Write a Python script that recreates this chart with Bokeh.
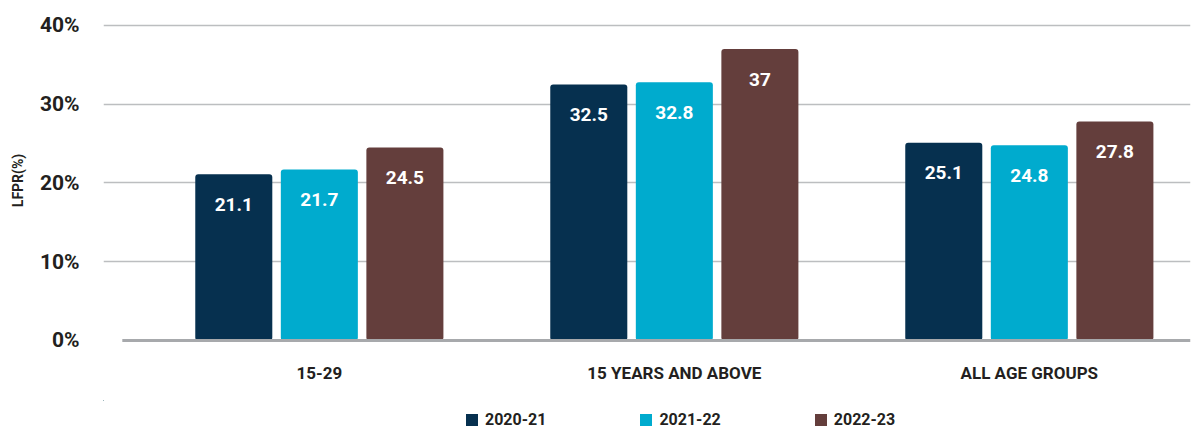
from bokeh.plotting import figure
from bokeh.layouts import column
from bokeh.models import ColumnDataSource, Range1d, FixedTicker, PrintfTickFormatter, Legend, LegendItem
from bokeh.core.properties import value
from bokeh.transform import dodge
from bokeh.embed import file_html
from bokeh.resources import INLINE

categories = ["15-29", "15 YEARS AND ABOVE", "ALL AGE GROUPS"]
years = ["2020-21", "2021-22", "2022-23"]
v2020 = [21.1, 32.5, 25.1]
v2021 = [21.7, 32.8, 24.8]
v2022 = [24.5, 37, 27.8]
y_ticks = [0, 10, 20, 30, 40]

colors = ["#06304F", "#00ABCE", "#643E3C"]
FONT = "Roboto"
TXT = "#231F20"

xs = list(range(len(categories)))
src = ColumnDataSource(dict(
    x=xs,
    v0=v2020, v1=v2021, v2=v2022,
    l0=[f"{v:g}" for v in v2020],
    l1=[f"{v:g}" for v in v2021],
    l2=[f"{v:g}" for v in v2022],
))

p = figure(width=1203, height=400, output_backend="svg", toolbar_location=None,
           x_range=Range1d(-0.608, 2.454), y_range=Range1d(-1.27, 41.9),
           min_border_left=103, min_border_right=13, min_border_top=10, min_border_bottom=50)
p.outline_line_color = None
p.background_fill_color = "white"

offs = [-0.241, 0.0, 0.241]
for i in range(3):
    p.vbar(x=dodge("x", offs[i]), top=f"v{i}", width=0.217, source=src,
           fill_color=colors[i], line_color=None, border_radius=3)
    p.text(x=dodge("x", offs[i]), y=f"v{i}", text=f"l{i}", source=src,
           text_color="white", text_font=value(FONT), text_font_style="bold",
           text_font_size="19px", text_align="center", text_baseline="middle",
           y_offset=30)

# baseline
p.segment(x0=[-0.555], y0=[0], x1=[2.454], y1=[0], line_color="#A7A9AC", line_width=3)

p.xgrid.visible = False
p.ygrid.ticker = FixedTicker(ticks=y_ticks[1:])
p.ygrid.grid_line_color = "#BCBEC0"
p.ygrid.grid_line_width = 1.5

p.yaxis.ticker = FixedTicker(ticks=y_ticks)
p.yaxis.formatter = PrintfTickFormatter(format="%d%%")
p.yaxis.axis_line_color = None
p.yaxis.major_tick_line_color = None
p.yaxis.minor_tick_line_color = None
p.yaxis.major_label_text_font = FONT
p.yaxis.major_label_text_font_style = "bold"
p.yaxis.major_label_text_font_size = "21px"
p.yaxis.major_label_text_color = TXT
p.yaxis.major_label_standoff = 18
p.yaxis.axis_label = "LFPR(%)"
p.yaxis.axis_label_text_font = FONT
p.yaxis.axis_label_text_font_style = "bold"
p.yaxis.axis_label_text_font_size = "14px"
p.yaxis.axis_label_text_color = TXT
p.yaxis.axis_label_standoff = 11

p.xaxis.ticker = FixedTicker(ticks=xs)
p.xaxis.major_label_overrides = {i: c for i, c in enumerate(categories)}
p.xaxis.axis_line_color = None
p.xaxis.major_tick_line_color = None
p.xaxis.minor_tick_line_color = None
p.xaxis.major_label_text_font = FONT
p.xaxis.major_label_text_font_style = "bold"
p.xaxis.major_label_text_font_size = "17px"
p.xaxis.major_label_text_color = TXT
p.xaxis.major_label_standoff = 6

# legend strip below the chart: zero-height copies of the bars, far out of its view
lg = figure(width=1203, height=29, output_backend="svg", toolbar_location=None,
            x_range=Range1d(1000, 1001), y_range=Range1d(-1001, -1000),
            min_border_left=0, min_border_right=0, min_border_top=0, min_border_bottom=0)
lg.axis.visible = False
lg.grid.visible = False
lg.outline_line_color = None
leg_items = []
for i in range(3):
    r = lg.vbar(x=dodge("x", offs[i]), top=f"v{i}", bottom=f"v{i}", width=0.217, source=src,
                fill_color=colors[i], line_color=None)
    leg_items.append(LegendItem(label=years[i], renderers=[r]))

legend = Legend(items=leg_items, orientation="horizontal", location=(361, 0),
                label_text_font=FONT, label_text_font_style="bold",
                label_text_font_size="16px", label_text_color=TXT,
                glyph_width=15, glyph_height=15, spacing=92,
                border_line_color=None, background_fill_alpha=0, padding=0, margin=0,
                label_standoff=6, label_height=18)
lg.add_layout(legend, "center")

layout = column(p, lg, spacing=0)
open("out.html", "w").write(file_html(layout, INLINE))
